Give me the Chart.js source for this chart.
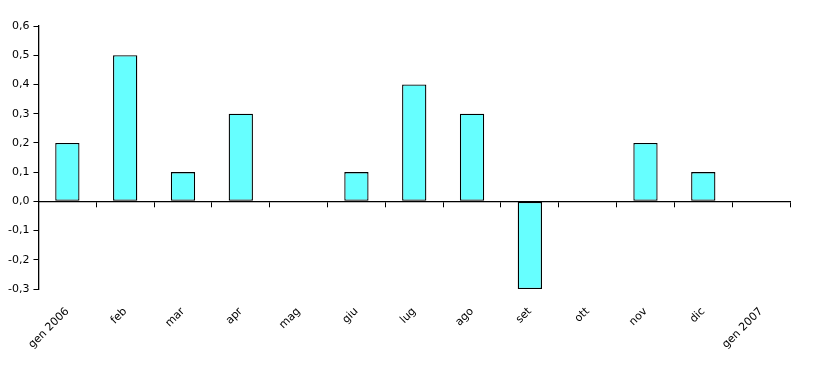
<!DOCTYPE html>
<html>
<head>
<meta charset="utf-8">
<script src="https://cdn.jsdelivr.net/npm/chart.js@4.4.1/dist/chart.umd.min.js"></script>
<style>
  html, body { margin: 0; padding: 0; background: #fff; }
  #wrap { width: 814px; height: 369px; }
</style>
</head>
<body>
<div id="wrap"><canvas id="grafico"></canvas></div>
<script>
var mesi = ['gen 2006','feb','mar','apr','mag','giu','lug','ago','set','ott','nov','dic','gen 2007'];
var valori = [0.2, 0.5, 0.1, 0.3, 0, 0.1, 0.4, 0.3, -0.3, 0, 0.2, 0.1, null];
var yMin = -0.3, yMax = 0.6, yStep = 0.1;

var fonte = { family: 'DejaVu Sans', size: 11 };

var ctx = document.getElementById('grafico').getContext('2d');
var grafico = new Chart(ctx, {
  type: 'bar',
  data: {
    labels: mesi,
    datasets: [{
      data: valori,
      backgroundColor: '#66ffff',
      borderColor: '#000000',
      borderWidth: 1.3,
      borderSkipped: false,
      barPercentage: 0.42,
      categoryPercentage: 1
    }]
  },
  options: {
    responsive: true,
    maintainAspectRatio: false,
    animation: false,
    layout: { padding: { top: 26, right: 24, left: 4, bottom: 0 } },
    plugins: { legend: { display: false }, tooltip: { enabled: false } },
    scales: {
      x: {
        position: { y: 0 },
        grid: { offset: true, drawOnChartArea: false, color: '#000', tickLength: 5, lineWidth: 1 },
        border: { color: '#000', width: 1.3 },
        ticks: { display: false }
      },
      x2: {
        type: 'category',
        labels: mesi,
        position: 'bottom',
        offset: true,
        grid: { display: false },
        border: { display: false },
        ticks: { color: '#000', font: fonte, maxRotation: 45, minRotation: 45, autoSkip: false, padding: 8 },
        afterFit: function(s) { s.height = 80; }
      },
      y: {
        min: yMin,
        max: yMax,
        grid: { drawOnChartArea: false, color: '#000', tickLength: 5 },
        border: { color: '#000', width: 1.3 },
        ticks: {
          stepSize: yStep,
          color: '#000',
          font: fonte,
          padding: 4,
          callback: function(v) { return v.toFixed(1).replace('.', ','); }
        }
      }
    }
  }
});
</script>
</body>
</html>
